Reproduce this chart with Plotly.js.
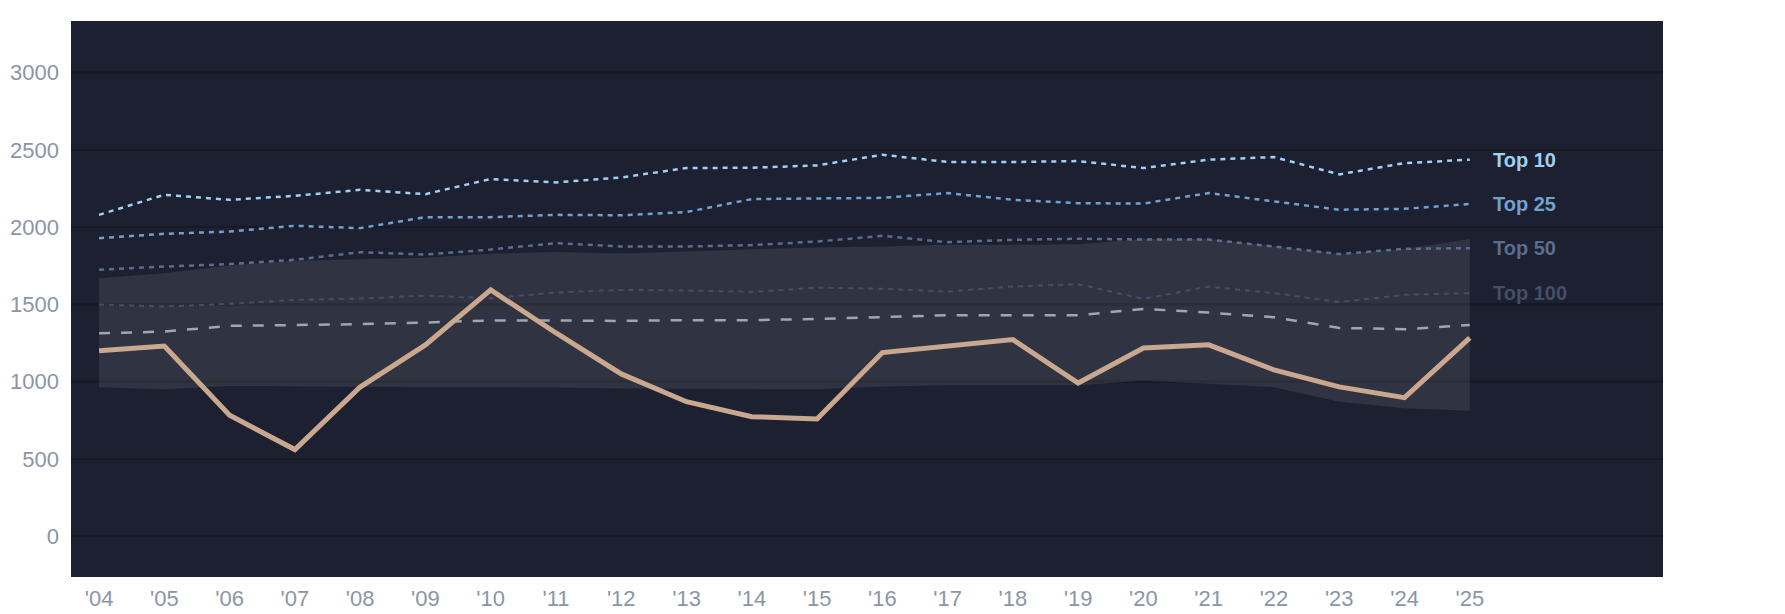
<!DOCTYPE html>
<html>
<head>
<meta charset="utf-8">
<script src="https://cdn.plot.ly/plotly-3.0.1.min.js"></script>
<style>
  html, body { margin: 0; padding: 0; background: #ffffff; }
  #chart { width: 1785px; height: 614px; }
</style>
</head>
<body>
<div id="chart"></div>
<script>
const years = [2004, 2005, 2006, 2007, 2008, 2009, 2010, 2011, 2012, 2013, 2014,
               2015, 2016, 2017, 2018, 2019, 2020, 2021, 2022, 2023, 2024, 2025];
const yearLabels = ["'04", "'05", "'06", "'07", "'08", "'09", "'10", "'11", "'12", "'13", "'14",
                    "'15", "'16", "'17", "'18", "'19", "'20", "'21", "'22", "'23", "'24", "'25"];

const player = [1200, 1230, 782, 560, 965, 1238, 1594, 1315, 1050, 870, 773,
                758, 1188, 1231, 1272, 991, 1218, 1238, 1076, 966, 896, 1283];
const median = [1313, 1324, 1361, 1365, 1372, 1383, 1396, 1396, 1393, 1398, 1398,
                1406, 1417, 1430, 1430, 1430, 1471, 1447, 1417, 1348, 1339, 1367];
const top10 = [2080, 2210, 2177, 2203, 2242, 2214, 2312, 2290, 2322, 2383, 2385,
               2400, 2469, 2422, 2422, 2428, 2383, 2437, 2454, 2342, 2415, 2437];
const top25 = [1929, 1957, 1972, 2009, 1994, 2065, 2065, 2080, 2077, 2098, 2182,
               2188, 2190, 2221, 2177, 2155, 2153, 2221, 2167, 2113, 2119, 2150];
const top50 = [1724, 1745, 1761, 1789, 1838, 1823, 1855, 1897, 1875, 1875, 1884,
               1907, 1944, 1903, 1918, 1925, 1920, 1920, 1875, 1826, 1860, 1864];
const top100 = [1499, 1486, 1504, 1529, 1538, 1557, 1540, 1577, 1594, 1590, 1581,
                1609, 1601, 1583, 1616, 1631, 1536, 1616, 1573, 1515, 1562, 1573];
const bandHigh = [1670, 1702, 1752, 1782, 1793, 1802, 1828, 1839, 1830, 1843, 1854,
                  1869, 1875, 1886, 1886, 1890, 1923, 1923, 1875, 1826, 1858, 1923];
const bandLow = [964, 951, 972, 968, 964, 964, 964, 962, 955, 955, 951,
                 951, 968, 977, 977, 977, 1005, 987, 964, 870, 827, 812];

const tierNames = ['Top 10', 'Top 25', 'Top 50', 'Top 100'];
const tierColors = ['#9fd0f5', '#70a2cf', '#5a6d8e', '#434e68'];
const tierWidths = [2.5, 2.5, 2.5, 2];
const tiers = [top10, top25, top50, top100];

const data = [{
    x: years,
    y: bandLow,
    mode: 'lines',
    line: { width: 0 },
    hoverinfo: 'skip',
    showlegend: false,
}, {
    x: years,
    y: bandHigh,
    mode: 'lines',
    line: { width: 0 },
    fill: 'tonexty',
    fillcolor: 'rgba(255,255,255,0.09)',
    hoverinfo: 'skip',
    showlegend: false,
}];

tiers.forEach((vals, i) => {
    data.push({
        x: years,
        y: vals,
        name: tierNames[i],
        mode: 'lines',
        line: { color: tierColors[i], width: tierWidths[i], dash: '5px,5px' },
        showlegend: false,
    });
});

data.push({
    x: years,
    y: median,
    name: 'Median',
    mode: 'lines',
    line: { color: '#a0a6b1', width: 2.5, dash: '11px,11px' },
    showlegend: false,
});

data.push({
    x: years,
    y: player,
    name: 'Player',
    mode: 'lines',
    line: { color: '#c9a88f', width: 5 },
    showlegend: false,
});

const annotations = tiers.map((vals, i) => ({
    x: years[years.length - 1],
    y: vals[vals.length - 1],
    xref: 'x',
    yref: 'y',
    text: tierNames[i],
    showarrow: false,
    xanchor: 'left',
    yanchor: 'middle',
    xshift: 21,
    font: { family: 'Liberation Sans, Arial, sans-serif', size: 20, color: tierColors[i], weight: 'bold' },
}));

const layout = {
    width: 1785,
    height: 614,
    margin: { t: 21, l: 71, r: 122, b: 37 },
    paper_bgcolor: '#ffffff',
    plot_bgcolor: '#1c2030',
    font: { family: 'Liberation Sans, Arial, sans-serif', size: 22, color: '#8c95a8' },
    xaxis: {
        range: [2003.57, 2027.96],
        tickmode: 'array',
        tickvals: years,
        ticktext: yearLabels,
        showgrid: false,
        zeroline: false,
        showline: false,
        ticks: '',
        ticklabelstandoff: 6,
        tickfont: { size: 22, color: '#8c95a8' },
    },
    yaxis: {
        range: [-265, 3335],
        tickvals: [0, 500, 1000, 1500, 2000, 2500, 3000],
        showgrid: true,
        gridcolor: '#161a24',
        gridwidth: 2.5,
        zeroline: false,
        showline: false,
        ticks: '',
        ticklabelstandoff: 11,
        tickfont: { size: 22, color: '#8c95a8' },
    },
    annotations: annotations,
    showlegend: false,
};

Plotly.newPlot('chart', data, layout, { displayModeBar: false, staticPlot: true });
</script>
</body>
</html>
